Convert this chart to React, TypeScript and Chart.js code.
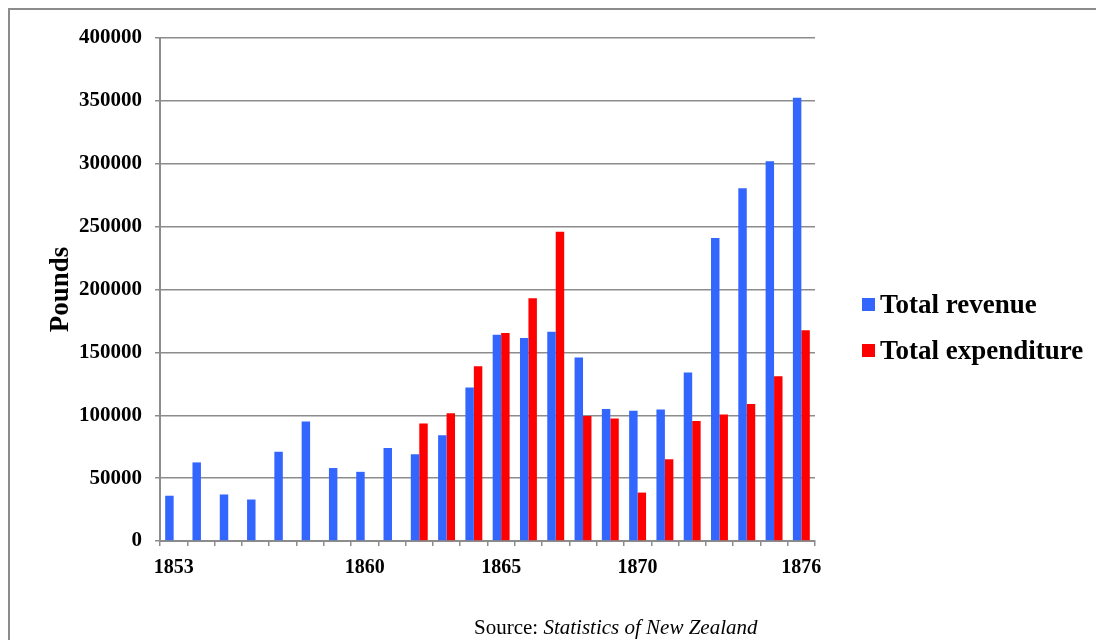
import { useEffect, useRef } from "react";
import { Chart, registerables } from "chart.js";

Chart.register(...registerables);

// Fiscal years shown along the category axis
const years = [
  "1853", "1854", "1855", "1856", "1857", "1858", "1859", "1860",
  "1861", "1862", "1863", "1864", "1865", "1866", "1867", "1868",
  "1869", "1870", "1871", "1872", "1873", "1874", "1875", "1876",
];

// Only these years carry a visible label
const shownYearLabels = ["1853", "1860", "1865", "1870", "1876"];

// Total revenue, pounds
const totalRevenue = [
  36000, 62500, 37000, 33000, 71000, 95000, 58000, 55000,
  74000, 69000, 84000, 122000, 164000, 161500, 166500, 146000,
  105000, 103500, 104500, 134000, 241000, 280500, 302000, 352500,
];

// Total expenditure, pounds (no figures before 1862)
const totalExpenditure = [
  null, null, null, null, null, null, null, null,
  null, 93500, 101500, 139000, 165500, 193000, 246000, 99500,
  97500, 38500, 65000, 95500, 100500, 109000, 131000, 167500,
];

const yMax = 400000;
const yStep = 50000;

const REVENUE_COLOR = "#3366FF";
const EXPENDITURE_COLOR = "#FF0000";
const GRID_COLOR = "#8c8c8c";
const SERIF = "'Liberation Serif', 'Times New Roman', serif";

export default function App() {
  const canvasRef = useRef<HTMLCanvasElement | null>(null);

  useEffect(() => {
    document.documentElement.style.overflow = "hidden";
    document.body.style.overflow = "hidden";
    const canvas = canvasRef.current;
    if (!canvas) return;

    const chart = new Chart(canvas, {
      type: "bar",
      data: {
        labels: years,
        datasets: [
          {
            label: "Total revenue",
            data: totalRevenue,
            backgroundColor: REVENUE_COLOR,
            categoryPercentage: 0.62,
            barPercentage: 1,
          },
          {
            label: "Total expenditure",
            data: totalExpenditure,
            backgroundColor: EXPENDITURE_COLOR,
            categoryPercentage: 0.62,
            barPercentage: 1,
          },
        ],
      },
      options: {
        animation: false,
        responsive: true,
        maintainAspectRatio: false,
        layout: { padding: { left: 0, right: 289, top: 28, bottom: 59 } },
        plugins: {
          legend: { display: false },
          tooltip: { enabled: false },
        },
        scales: {
          x: {
            offset: true,
            afterFit: (scale: any) => {
              scale.height = 40;
            },
            grid: {
              offset: true,
              drawOnChartArea: false,
              drawTicks: true,
              tickLength: 5,
              color: GRID_COLOR,
              lineWidth: 1.5,
            },
            border: { color: GRID_COLOR, width: 2 },
            ticks: {
              autoSkip: false,
              maxRotation: 0,
              minRotation: 0,
              padding: 10,
              color: "#000",
              font: { family: SERIF, size: 20, weight: "bold" },
              callback: (_v: any, i: number) =>
                shownYearLabels.includes(years[i]) ? years[i] : "",
            },
          },
          y: {
            min: 0,
            max: yMax,
            afterFit: (scale: any) => {
              scale.width = 150;
            },
            grid: {
              color: GRID_COLOR,
              lineWidth: 1.5,
              drawTicks: true,
              tickLength: 5,
            },
            border: { color: GRID_COLOR, width: 2 },
            ticks: {
              stepSize: yStep,
              padding: 13,
              color: "#000",
              font: { family: SERIF, size: 21, weight: "bold" },
              callback: (v: any) => String(v),
            },
            title: {
              display: true,
              text: "Pounds",
              color: "#000",
              padding: { top: 35, bottom: 0 },
              font: { family: SERIF, size: 27, weight: "bold" },
            },
          },
        },
      },
    });

    return () => chart.destroy();
  }, []);

  const legendRow = (color: string, text: string) => (
    <div style={{ display: "flex", alignItems: "center", height: 46 }}>
      <span
        style={{
          display: "inline-block",
          width: 13,
          height: 13,
          background: color,
          marginRight: 5,
        }}
      />
      <span>{text}</span>
    </div>
  );

  return (
    <div
      style={{
        position: "relative",
        width: 1094,
        height: 630,
        borderTop: "2px solid #8c8c8c",
        borderLeft: "2px solid #8c8c8c",
        background: "#fff",
      }}
    >
      <div style={{ position: "absolute", left: 0, top: 0, width: 1094, height: 630 }}>
        <canvas ref={canvasRef} />
      </div>
      <div
        style={{
          position: "absolute",
          left: 852,
          top: 271,
          fontFamily: SERIF,
          fontWeight: "bold",
          fontSize: 27,
          color: "#000",
          lineHeight: 1,
        }}
      >
        {legendRow(REVENUE_COLOR, "Total revenue")}
        {legendRow(EXPENDITURE_COLOR, "Total expenditure")}
      </div>
      <div
        style={{
          position: "absolute",
          left: 464,
          top: 605,
          fontFamily: SERIF,
          fontSize: 21,
          color: "#000",
          whiteSpace: "nowrap",
        }}
      >
        Source: <i>Statistics of New Zealand</i>
      </div>
    </div>
  );
}
